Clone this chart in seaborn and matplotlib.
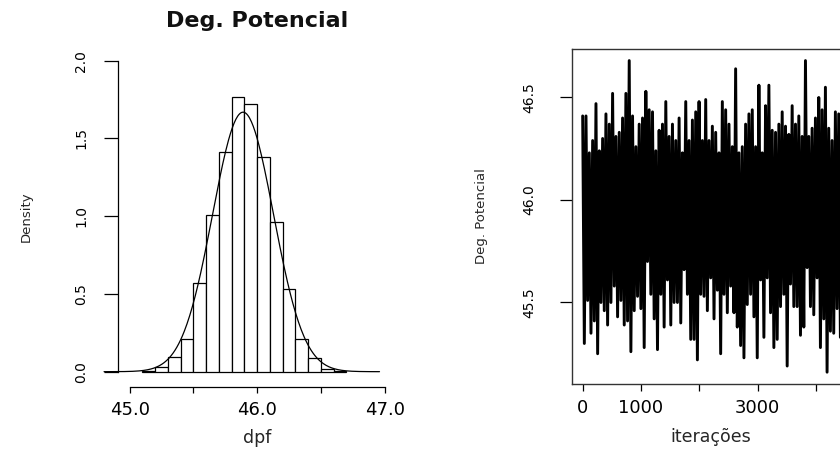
import numpy as np
import matplotlib
matplotlib.use('Agg')
import matplotlib.pyplot as plt
import seaborn as sns

# --- histograma de dpf (densidade por classe de largura 0.1) ---
limites = [45.1, 45.2, 45.3, 45.4, 45.5, 45.6, 45.7, 45.8, 45.9,
           46.0, 46.1, 46.2, 46.3, 46.4, 46.5, 46.6, 46.7]
densidade = [0.005, 0.03, 0.096, 0.21, 0.57, 1.01, 1.41, 1.77,
             1.72, 1.38, 0.96, 0.53, 0.21, 0.09, 0.02, 0.005]
# normal ajustada (curva sobre o histograma)
media_dpf = 45.89
dp_dpf = 0.239

# --- traço da cadeia: máximos e mínimos lidos por coluna ---
passo = 57  # iterações entre colunas lidas
topo = [46.41, 46.41, 46.23, 46.29, 46.47, 46.24, 46.30, 46.42, 46.37, 46.52,
        46.31, 46.33, 46.40, 46.52, 46.68, 46.41, 46.26, 46.37, 46.40, 46.53,
        46.44, 46.43, 46.24, 46.34, 46.37, 46.48, 46.31, 46.37, 46.29, 46.40,
        46.23, 46.48, 46.29, 46.39, 46.43, 46.48,
        46.29, 46.49, 46.29, 46.36, 46.33, 46.23, 46.48, 46.44, 46.37, 46.26,
        46.64, 46.23, 46.26, 46.37, 46.42, 46.44, 46.26, 46.56, 46.23, 46.46,
        46.56, 46.34, 46.33, 46.37, 46.43, 46.36, 46.32, 46.46, 46.37, 46.41,
        46.31, 46.68, 46.31, 46.35, 46.40, 46.50, 46.44, 46.55, 46.35, 46.29,
        46.43, 46.42]
base = [45.30, 45.51, 45.35, 45.41, 45.25, 45.50, 45.46, 45.39, 45.50, 45.58,
        45.43, 45.51, 45.39, 45.41, 45.26, 45.46, 45.53, 45.47, 45.28, 45.70,
        45.54, 45.42, 45.27, 45.54, 45.38, 45.61, 45.39, 45.50, 45.50, 45.40,
        45.66, 45.54, 45.32, 45.32, 45.22, 45.54,
        45.53, 45.46, 45.62, 45.42, 45.56, 45.25, 45.54, 45.45, 45.58, 45.45,
        45.38, 45.29, 45.23, 45.49, 45.54, 45.43, 45.23, 45.61, 45.33, 45.62,
        45.45, 45.28, 45.32, 45.48, 45.54, 45.19, 45.59, 45.48, 45.48, 45.34,
        45.38, 45.67, 45.48, 45.44, 45.62, 45.28, 45.42, 45.16, 45.36, 45.35,
        45.47, 45.33]

sns.set_theme(style='white')
plt.rcParams['font.family'] = ['DejaVu Sans']
plt.rcParams['text.color'] = '#111111'

fig = plt.figure(figsize=(8.4, 4.49), dpi=100)
ax1 = fig.add_axes([0.1421, 0.1445, 0.3279, 0.7479])
ax2 = fig.add_axes([0.6815, 0.1448, 0.3285, 0.7461])

# histograma
centros = [(a + b) / 2 for a, b in zip(limites[:-1], limites[1:])]
sns.histplot(x=centros, weights=densidade, bins=limites, stat='count',
             color='white', edgecolor='black', linewidth=0.9, alpha=1, ax=ax1)

xs = np.linspace(44.8, 46.96, 300)
ys = np.exp(-0.5 * ((xs - media_dpf) / dp_dpf) ** 2) / (dp_dpf * np.sqrt(2 * np.pi))
sns.lineplot(x=xs, y=ys, color='black', linewidth=0.9, ax=ax1)
ax1.lines[-1].set_clip_on(False)

ax1.set_xlim(44.92, 47.08)
ax1.set_ylim(-0.08, 2.08)
ax1.set_xticks([45, 45.5, 46, 46.5, 47])
ax1.set_xticklabels(['45.0', '', '46.0', '', '47.0'])
ax1.set_yticks([0, 0.5, 1, 1.5, 2])
ax1.set_yticklabels(['0.0', '0.5', '1.0', '1.5', '2.0'])
for s in ['top', 'right']:
    ax1.spines[s].set_visible(False)
for s in ['left', 'bottom']:
    ax1.spines[s].set_color('black')
    ax1.spines[s].set_linewidth(0.9)
ax1.spines['left'].set_bounds(0, 2)
ax1.spines['bottom'].set_bounds(45, 47)
ax1.spines['bottom'].set_position(('outward', 1.9))
ax1.spines['left'].set_position(('outward', 1))
ax1.tick_params(axis='x', bottom=True, direction='out', length=4.5, width=0.9,
                pad=6, labelsize=13, colors='black')
ax1.tick_params(axis='y', left=True, direction='out', length=10, width=0.9,
                pad=11.3, labelsize=10, labelrotation=90, colors='black')
for t in ax1.get_yticklabels():
    t.set_va('center')
ax1.set_title('Deg. Potencial', fontsize=16, fontweight='bold', pad=15)
ax1.set_xlabel('dpf', fontsize=12.5, va='baseline')
ax1.xaxis.set_label_coords(0.5, -0.1754)
ax1.set_ylabel('Density', fontsize=9.5)
ax1.yaxis.set_label_coords(-0.314, 0.5)

# traço
iteracoes = np.arange(len(topo)) * passo
x_traco = np.empty(2 * len(topo))
y_traco = np.empty(2 * len(topo))
x_traco[0::2] = iteracoes
x_traco[1::2] = iteracoes + passo / 2
y_traco[0::2] = topo
y_traco[1::2] = base
sns.lineplot(x=x_traco, y=y_traco, color='black', linewidth=2.1,
             estimator=None, sort=False, ax=ax2)

ax2.set_xlim(-175, 4555)
ax2.set_ylim(45.1024, 46.7366)
ax2.set_xticks([0, 1000, 2000, 3000, 4000])
ax2.set_xticklabels(['0', '1000', '', '3000', ''])
ax2.set_yticks([45.5, 46.0, 46.5])
ax2.set_yticklabels(['45.5', '46.0', '46.5'])
for s in ax2.spines.values():
    s.set_color('#333333')
    s.set_linewidth(1.0)
ax2.tick_params(axis='x', bottom=True, direction='out', length=5, width=0.9,
                pad=6, labelsize=13, colors='black')
ax2.tick_params(axis='y', left=True, direction='out', length=8.6, width=0.9,
                pad=17.1, labelsize=10, labelrotation=90, colors='black')
for t in ax2.get_yticklabels():
    t.set_va('center')
ax2.set_xlabel('iterações', fontsize=12.5, va='baseline')
ax2.xaxis.set_label_coords(0.5, -0.1731)
ax2.set_ylabel('Deg. Potencial', fontsize=9.5)
ax2.yaxis.set_label_coords(-0.306, 0.5)

fig.savefig('out.png', dpi=100)
